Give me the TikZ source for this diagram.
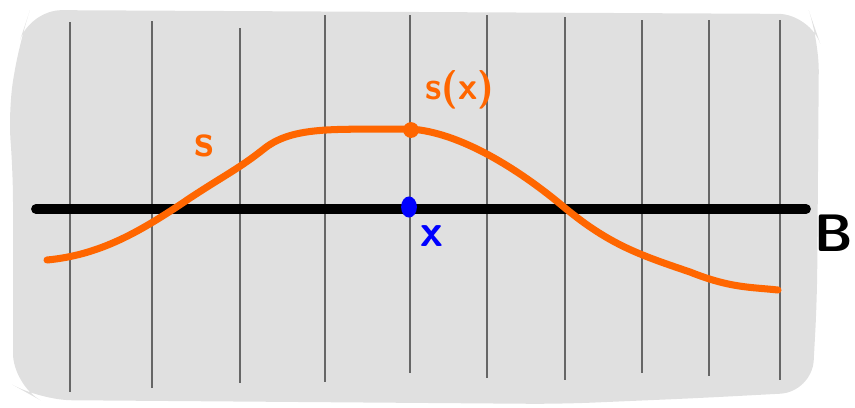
\documentclass[tikz,border=0pt]{standalone}
\usepackage{tikz}
\usetikzlibrary{arrows.meta,shapes.geometric}
\definecolor{secorange}{RGB}{255,102,0}
\definecolor{bggray}{RGB}{224,224,224}

\begin{document}
\begin{tikzpicture}[x=0.02cm, y=-0.02cm, every node/.style={font=\sffamily\bfseries},
	fiber/.style={draw=black!60, line width=1.6pt},
	base/.style={draw=black, line width=5.6pt, line cap=round},
	sect/.style={draw=secorange, line width=4pt, line cap=round}]
	\useasboundingbox (0,0) rectangle (855,407);
	% background blob
	\fill[bggray, rounded corners=18pt] (30,10) -- (810,14) -- (819,40) -- (817,300) -- (812,392) -- (700,398) -- (560,404) -- (40,400) -- (13,385) -- (13,170) -- (8,110) -- (20,40) -- cycle;
	% fibres
	\foreach \x/\t/\b in {70/22/392, 152/21/388, 240/28/383, 325/15/382, 410/15/373, 487/15/378, 565/17/380, 642/20/373, 709/20/376, 780/20/380}
		{\draw[fiber] (\x,\t) -- (\x,\b);}
	% base space
	\coordinate (bl) at (36,209);
	\coordinate (br) at (806,209);
	\draw[base] (bl) -- (br);
	\node[font=\sffamily\bfseries\fontsize{30}{30}\selectfont, inner sep=0pt] (B) at (834,233) {B};
	% section
	\draw[sect] (47,260) .. controls (100,255) and (140,232) .. (190,198) .. controls (225,175) and (240,168) .. (265,148) .. controls (295,125) and (340,130) .. (410,129) .. controls (460,132) and (520,170) .. (565,208) .. controls (610,245) and (640,255) .. (690,272) .. controls (730,288) and (750,287) .. (778,290);
	\node[fill=secorange, circle, inner sep=0pt, minimum size=9pt] (sx) at (411,130) {};
	\node[text=secorange, font=\sffamily\bfseries\fontsize{26}{26}\selectfont] (s) at (204,146) {s};
	\node[text=secorange, font=\sffamily\bfseries\fontsize{22}{22}\selectfont] (slab) at (460,90) {s(x)};
	% point
	\node[fill=blue, ellipse, inner sep=0pt, minimum width=9pt, minimum height=12pt] (x) at (409,207) {};
	\node[text=blue, font=\sffamily\bfseries\fontsize{26}{26}\selectfont] (xlab) at (432,236) {x};
\end{tikzpicture}
\end{document}
